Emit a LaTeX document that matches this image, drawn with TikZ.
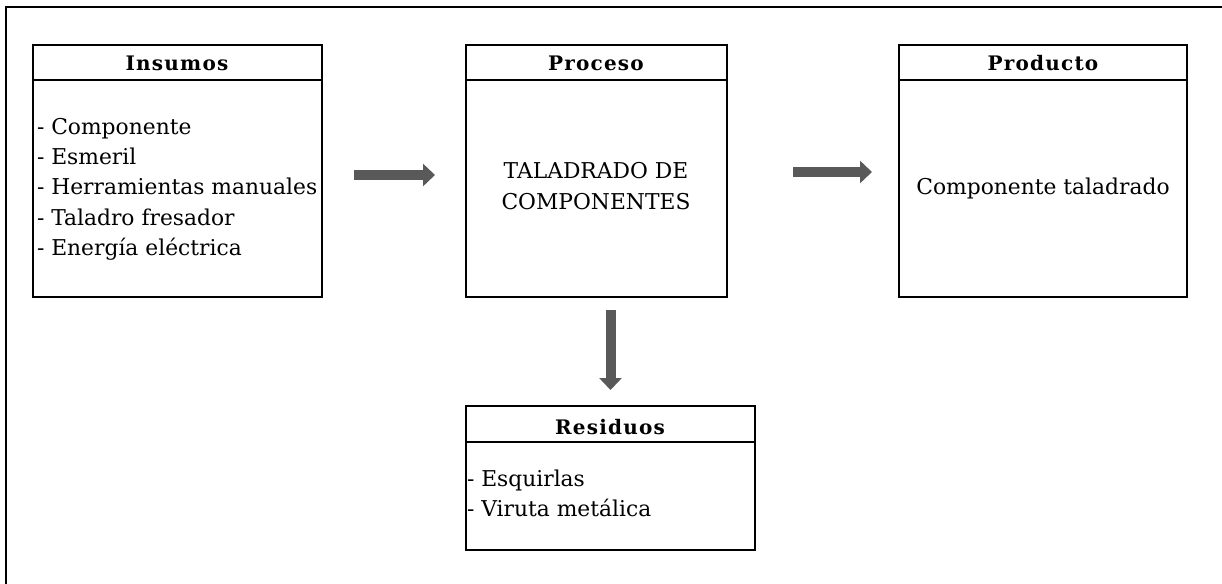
\documentclass[tikz,border=0pt]{standalone}
\usepackage{fontspec}
\setmainfont{DejaVu Serif}
\newfontfamily\headfont{DejaVu Serif}[LetterSpace=6]
\usetikzlibrary{arrows.meta,positioning}
\begin{document}
\begin{tikzpicture}[x=0.5pt,y=-0.5pt,
  every node/.style={inner sep=0pt,outer sep=0pt},
  box/.style={draw=black,line width=1pt,rectangle,anchor=north west},
  head/.style={font=\headfont\bfseries\fontsize{10}{12}\selectfont},
  body/.style={font=\fontsize{10.9}{15.2}\selectfont,align=left},
  bigarrow/.style={draw=arrowgray,line width=5pt,-{Triangle[length=6pt,width=11pt]}}
]
\definecolor{arrowgray}{HTML}{595959}
\useasboundingbox (0,0) rectangle (1222,584);
% open outer frame
\draw[line width=1pt] (6,584) -- (6,7) -- (1222,7);

% boxes
\node[box,minimum width=144.5pt,minimum height=126pt] (ins) at (33,45) {};
\node[box,minimum width=130.5pt,minimum height=126pt] (proc) at (466,45) {};
\node[box,minimum width=144pt,minimum height=126pt] (prod) at (899,45) {};
\node[box,minimum width=144.5pt,minimum height=72pt] (res) at (466,406) {};

% header separators
\draw[line width=0.7pt] (ins.west |- 0,80) -- (ins.east |- 0,80);
\draw[line width=0.7pt] (proc.west |- 0,80) -- (proc.east |- 0,80);
\draw[line width=0.7pt] (prod.west |- 0,80) -- (prod.east |- 0,80);
\draw[line width=0.7pt] (res.west |- 0,442) -- (res.east |- 0,442);

% header titles
\node[head] (insH) at (177,63) {Insumos};
\node[head] (procH) at (596,63) {Proceso};
\node[head] (prodH) at (1043,63) {Producto};
\node[head] (resH) at (610,427) {Residuos};

% contents
\node[body,anchor=north west] (insT) at (37,118)
  {- Componente\\- Esmeril\\- Herramientas manuales\\- Taladro fresador\\- Energía eléctrica};
\node[body,align=center] (procT) at (596,186) {TALADRADO DE\\COMPONENTES};
\node[body] (prodT) at (1043,188) {Componente taladrado};
\node[body,anchor=north west] (resT) at (467,470) {- Esquirlas\\- Viruta metálica};

% flow arrows
\draw[bigarrow,shorten <=16pt,shorten >=15.5pt] ([yshift=-2pt]ins.east) -- ([yshift=-2pt]proc.west);
\draw[bigarrow,shorten <=33pt,shorten >=13.5pt] ([yshift=-0.5pt]proc.east) -- ([yshift=-0.5pt]prod.west);
\draw[bigarrow,shorten <=6.5pt,shorten >=8pt] (res.north |- proc.south) -- (res.north);
\end{tikzpicture}
\end{document}
